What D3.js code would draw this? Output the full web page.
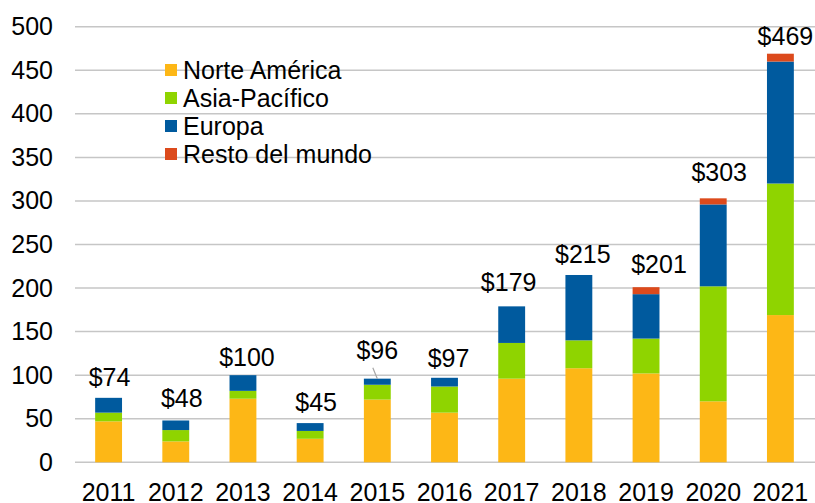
<!DOCTYPE html>
<html>
<head>
<meta charset="utf-8">
<script src="https://cdn.jsdelivr.net/npm/d3@7"></script>
<style>
  body { margin: 0; background: #fff; }
  text { font-family: "Liberation Sans", Arial, sans-serif; fill: #000; }
</style>
</head>
<body>
<div id="chart"></div>
<script>
// Datos
var anos = ["2011","2012","2013","2014","2015","2016","2017","2018","2019","2020","2021"];
var norteAmerica = [47, 24, 73, 27, 72, 57, 96, 108, 102, 70, 169];
var asiaPacifico = [10, 13, 9, 9, 17, 30, 41, 32, 40, 132, 151];
var europa       = [17, 11, 18, 9, 7, 10, 42, 75, 51, 94, 140];
var restoMundo   = [0, 0, 0, 0, 0, 0, 0, 0, 8, 7, 9];
var totales      = [74, 48, 100, 45, 96, 97, 179, 215, 201, 303, 469];
var series = ["Norte América", "Asia-Pacífico", "Europa", "Resto del mundo"];
var yTicks = [0, 50, 100, 150, 200, 250, 300, 350, 400, 450, 500];

// Estilo
var colores = ["#FDB716", "#8FD400", "#005A9E", "#DC4A1C"];
// ajuste manual de etiquetas (px), como en el original
var etiquetaDx = [1, 6, 4, 6, 0, 4, -3, 4, 13, 6, 5];
var etiquetaDy = [12, 13, 9, 12, 20, 11, 15, 12, 14, 17, 9];

//Tamanho do svg
var w = 815, h = 503;
var fs = "25px";

var svg = d3.select("#chart")
  .append("svg")
  .attr("width", w)
  .attr("height", h);

// Tabla para stack
var tabla = anos.map(function(a, i) {
  return {ano: a, "Norte América": norteAmerica[i], "Asia-Pacífico": asiaPacifico[i],
          "Europa": europa[i], "Resto del mundo": restoMundo[i], total: totales[i], i: i};
});

// Escalas
var x = d3.scaleBand()
  .domain(anos)
  .range([75, 814])
  .paddingInner(0.6)
  .paddingOuter(0.3);

var y = d3.scaleLinear()
  .domain([0, 500])
  .range([462.3, 26.7]);

// Grid
svg.append("g")
  .selectAll("line")
  .data(yTicks)
  .enter()
  .append("line")
  .attr("x1", 75)
  .attr("x2", 815)
  .attr("y1", function(d) { return y(d); })
  .attr("y2", function(d) { return y(d); })
  .attr("stroke", "#c6c6c6")
  .attr("stroke-width", 1.5);

// Eixo y
var yAxis = d3.axisLeft(y).tickValues(yTicks).tickSize(0).tickPadding(0);
svg.append("g")
  .attr("transform", "translate(53,0)")
  .call(yAxis)
  .call(function(g) {
    g.select(".domain").remove();
    g.selectAll("text").attr("font-size", fs).attr("fill", "#000")
      .attr("font-family", "Liberation Sans, Arial, sans-serif");
  });

// Eixo x
var xAxis = d3.axisBottom(x).tickSize(0).tickPadding(0);
svg.append("g")
  .attr("transform", "translate(0,483)")
  .call(xAxis)
  .call(function(g) {
    g.select(".domain").remove();
    g.selectAll("text").attr("font-size", fs).attr("fill", "#000")
      .attr("dy", "0.71em")
      .attr("font-family", "Liberation Sans, Arial, sans-serif");
  });

// Barras
var stack = d3.stack().keys(series)(tabla);
svg.append("g")
  .selectAll("g")
  .data(stack)
  .enter()
  .append("g")
  .attr("fill", function(d, i) { return colores[i]; })
  .selectAll("rect")
  .data(function(d) { return d; })
  .enter()
  .append("rect")
  .attr("x", function(d) { return x(d.data.ano); })
  .attr("width", x.bandwidth())
  .attr("y", function(d) { return y(d[1]); })
  .attr("height", function(d) { return y(d[0]) - y(d[1]); });

// Etiquetas de total
svg.append("g")
  .selectAll("text")
  .data(tabla)
  .enter()
  .append("text")
  .attr("x", function(d) { return x(d.ano) + x.bandwidth() / 2 + etiquetaDx[d.i]; })
  .attr("y", function(d) { return y(d.total) - etiquetaDy[d.i]; })
  .attr("text-anchor", "middle")
  .attr("font-size", fs)
  .text(function(d) { return "$" + d.total; });

// Linea guia del 2015
var d15 = tabla[4];
svg.append("line")
  .attr("x1", x(d15.ano) + x.bandwidth() / 2 - 4.5)
  .attr("y1", y(d15.total) - 11)
  .attr("x2", x(d15.ano) + x.bandwidth() / 2)
  .attr("y2", y(d15.total))
  .attr("stroke", "#a6a6a6")
  .attr("stroke-width", 1.2);

// Leyenda
var leyenda = svg.append("g")
  .selectAll("g")
  .data(series)
  .enter()
  .append("g")
  .attr("transform", function(d, i) { return "translate(165," + (70 + i * 28) + ")"; });
leyenda.append("rect")
  .attr("x", 0)
  .attr("y", -6)
  .attr("width", 12)
  .attr("height", 12)
  .attr("fill", function(d, i) { return colores[i]; });
leyenda.append("text")
  .attr("x", 18)
  .attr("y", 0)
  .attr("dy", "0.36em")
  .attr("font-size", fs)
  .text(function(d) { return d; });
</script>
</body>
</html>
